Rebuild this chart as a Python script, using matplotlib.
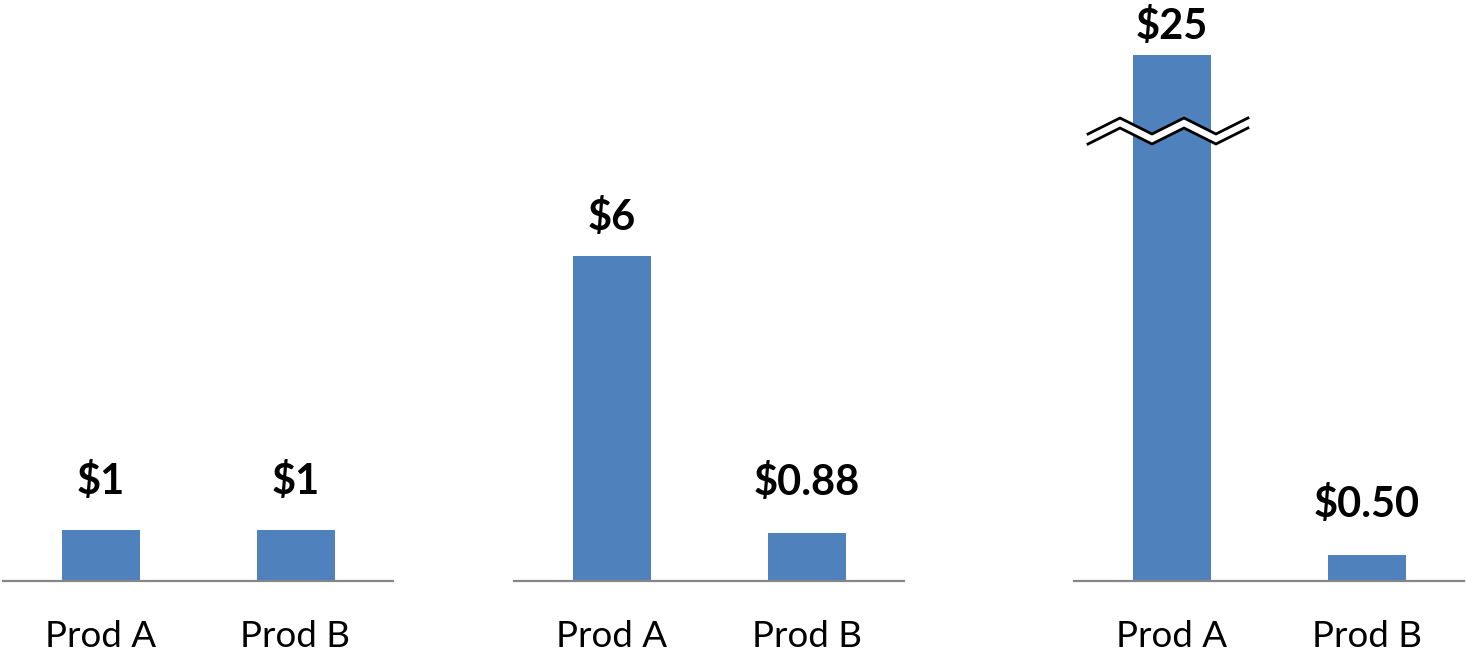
import matplotlib
matplotlib.use('Agg')
import matplotlib.pyplot as plt
import matplotlib.transforms as mtransforms
import numpy as np

plt.rcParams['font.family'] = ['Lato', 'DejaVu Sans']

# Prices per product, one panel per scenario
products = ['Prod A', 'Prod B']
panel1 = [1.0, 1.0]
panel2 = [6.0, 0.88]
panel3 = [25.0, 0.50]
labels1 = ['$1', '$1']
labels2 = ['$6', '$0.88']
labels3 = ['$25', '$0.50']

BAR_COLOR = '#4F81BD'
AXIS_COLOR = '#868686'
BREAK_AT = 7.0        # values above this get squeezed (third panel only)
SQUEEZE = (10.1 - BREAK_AT) / (25.0 - BREAK_AT)


def fwd(y):
    y = np.asarray(y, dtype=float)
    return np.where(y <= BREAK_AT, y, BREAK_AT + (y - BREAK_AT) * SQUEEZE)


def inv(y):
    y = np.asarray(y, dtype=float)
    return np.where(y <= BREAK_AT, y, BREAK_AT + (y - BREAK_AT) / SQUEEZE)


fig = plt.figure(figsize=(14.66, 6.54), dpi=100)

W, H = 1466, 654
base = (H - 581) / H
height = 583 / H
lefts = [3, 514, 1074]
width = 390 / W
tops = [11.4, 10.75, 11.2]

# label gap above the bar top, in pixels
gaps = [[36, 36], [26, 38], [16, 38]]

series = [(panel1, labels1), (panel2, labels2), (panel3, labels3)]
axes = []
for i, (vals, labs) in enumerate(series):
    ax = fig.add_axes([lefts[i] / W, base, width, height])
    x = np.arange(len(products))
    if i == 2:
        ax.set_yscale('function', functions=(fwd, inv))
        ax.set_ylim(0, float(inv(tops[i])))
    else:
        ax.set_ylim(0, tops[i])
    ax.bar(x, vals, width=0.4, color=BAR_COLOR, zorder=2)
    ax.set_xlim(-0.5, 1.5)
    for xi, v, lab, g in zip(x, vals, labs, gaps[i]):
        ax.annotate(lab, (xi, v), xytext=(0, g * 0.72), textcoords='offset points',
                    ha='center', va='baseline', fontsize=30, fontweight='bold',
                    annotation_clip=False)
    ax.set_xticks(x)
    ax.set_xticklabels(products, fontsize=26.5)
    ax.tick_params(axis='x', length=0, pad=28)
    ax.set_yticks([])
    for s in ['top', 'left', 'right']:
        ax.spines[s].set_visible(False)
    ax.spines['bottom'].set_color(AXIS_COLOR)
    ax.spines['bottom'].set_linewidth(1.6)
    axes.append(ax)

# axis break drawn across the tall bar of the third panel
ax3 = axes[2]
trans = mtransforms.blended_transform_factory(ax3.transData, ax3.transAxes)
zx = np.linspace(-0.428, 0.392, 6)
px = 583 / tops[2]    # pixels per display unit
zig = np.array([-1, 1, -1, 1, -1, 1]) * 8
upper = (581 - 126 + zig) / px / tops[2]
lower = (581 - 136 + zig) / px / tops[2]
ax3.fill_between(zx, lower, upper, color='white', transform=trans, zorder=3,
                 clip_on=False, linewidth=0)
ax3.plot(zx, upper, color='black', lw=2, transform=trans, zorder=4, clip_on=False)
ax3.plot(zx, lower, color='black', lw=2, transform=trans, zorder=4, clip_on=False)

fig.savefig('out.png', dpi=100)
